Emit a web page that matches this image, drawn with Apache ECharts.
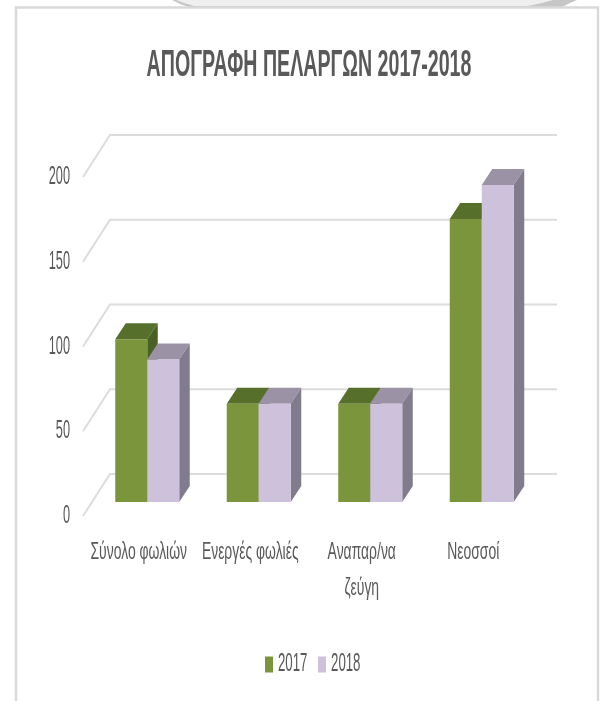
<!DOCTYPE html>
<html><head><meta charset="utf-8">
<style>html,body{margin:0;padding:0;background:#fff}#c{width:605px;height:701px}</style>
<script src="https://cdn.jsdelivr.net/npm/echarts@6/dist/echarts.min.js"></script>
</head><body><div id="c"></div>
<script>
const categories = ['Σύνολο φωλιών','Ενεργές φωλιές','Αναπαρ/να\nζεύγη','Νεοσσοί'];
const values2017 = [96,58,58,167];
const values2018 = [84,58,58,187];
const gridTicks = [0,50,100,150,200];

const FONT = '"Liberation Sans",sans-serif';
const TEXT = '#595959';
const BW = 32, DX = 10.5, DY = 16;

function barRender(offsetIdx, cols){
  return function(params, api){
    const top = api.coord([api.value(0), api.value(1)]);
    const base = api.coord([api.value(0), 0]);
    const x = top[0] + (offsetIdx - 1) * BW, y = top[1], r = x + BW, b = base[1];
    return {type:'group', children:[
      {type:'polygon', shape:{points:[[x,y],[x+DX,y-DY],[r+DX,y-DY],[r,y]]}, style:{fill:cols.top}},
      {type:'polygon', shape:{points:[[r,y],[r+DX,y-DY],[r+DX,b-DY],[r,b]]}, style:{fill:cols.side}},
      {type:'rect', shape:{x:x,y:y,width:BW,height:b-y}, style:{fill:cols.front}}
    ]};
  };
}
function wallRender(params, api){
  const p = api.coord([0, api.value(0)]);
  const x0 = params.coordSys.x, y = p[1];
  return {type:'polyline', shape:{points:[[x0,y],[x0+27,y-42],[x0+27+447,y-42]]},
    style:{stroke:'#dcdcdc', lineWidth:2, fill:null}};
}
const chart = echarts.init(document.getElementById('c'), null, {renderer:'canvas'});
chart.setOption({
  backgroundColor:'#fff',
  animation:false,
  title:{text:'ΑΠΟΓΡΑΦΗ ΠΕΛΑΡΓΩΝ 2017-2018', left:304, top:42, textAlign:'center',
    textStyle:{fontFamily:FONT,fontSize:37,fontWeight:'bold',color:TEXT}},
  legend:{data:['2017','2018'], left:260, top:647, itemWidth:8, itemHeight:16, itemGap:-15.6, icon:'rect',
    textStyle:{fontFamily:FONT,fontSize:25,color:TEXT}},
  grid:[
    {left:83, top:177, width:446, height:339},
    {left:91.5, top:163, width:446, height:339}
  ],
  xAxis:[
    {type:'category', gridIndex:0, data:categories, axisLine:{show:false}, axisTick:{show:false},
      axisLabel:{margin:18,fontFamily:FONT,fontSize:24,color:TEXT,lineHeight:36,verticalAlign:'top',interval:0,hideOverlap:false}},
    {type:'category', gridIndex:1, data:categories, show:false}
  ],
  yAxis:[
    {type:'value', gridIndex:0, min:0, max:200, interval:50, axisLine:{show:false}, axisTick:{show:false}, splitLine:{show:false},
      axisLabel:{margin:13,fontFamily:FONT,fontSize:26,color:TEXT}},
    {type:'value', gridIndex:1, min:0, max:200, interval:50, show:false, splitLine:{show:false}}
  ],
  series:[
    {type:'custom', name:'walls', xAxisIndex:0, yAxisIndex:0, z:1, silent:true, data:gridTicks.map(v=>[v]), encode:{y:0}, renderItem:wallRender},
    {type:'custom', name:'2017', xAxisIndex:1, yAxisIndex:1, z:2, data:values2017.map((v,i)=>[i,v]), encode:{x:0,y:1},
      itemStyle:{color:'#7a953c'}, renderItem:barRender(0,{front:'#7a953c',top:'#566f2b',side:'#4a6125'})},
    {type:'custom', name:'2018', xAxisIndex:1, yAxisIndex:1, z:3, data:values2018.map((v,i)=>[i,v]), encode:{x:0,y:1},
      itemStyle:{color:'#cdc1db'}, renderItem:barRender(1,{front:'#cdc1db',top:'#9c92a6',side:'#807c8e'})}
  ],
  graphic:[
    {type:'polygon', silent:true, z:-3, shape:{points:[[172,0],[180,4],[192,8],[560,8],[570,3],[577,0]]}, style:{fill:'#c6c6c6'}},
    {type:'polygon', silent:true, z:-2, shape:{points:[[176,0],[184,3],[194,6],[528,6],[542,3],[553,0]]}, style:{fill:'#efefef'}},
    {type:'rect', silent:true, z:-1, shape:{x:16,y:7.5,width:582,height:720}, style:{fill:'#fff',stroke:'#d9d9d9',lineWidth:2.5}}
  ]
});
// The reference's lettering is a tall, narrow face: squeeze the real text elements horizontally.
const squeeze = {title:0.53, axisX:0.58, axisY:0.49, legend:0.53};
chart.getZr().storage.traverse(function(el){
  if (!(el instanceof echarts.graphic.Text)) return;
  const t = el.style.text;
  let s = null;
  if (/ΑΠΟΓΡΑΦΗ/.test(t)) s = squeeze.title;
  else if (/^\d+$/.test(t) && t.length === 4) s = squeeze.legend;
  else if (/^\d+$/.test(t)) s = squeeze.axisY;
  else if (categories.indexOf(t) >= 0 || /[α-ω]/.test(t)) s = squeeze.axisX;
  if (s) { el.originX = el.style.x || 0; el.scaleX = s; el.markRedraw(); }
});
chart.getZr().refreshImmediately();
</script></body></html>
